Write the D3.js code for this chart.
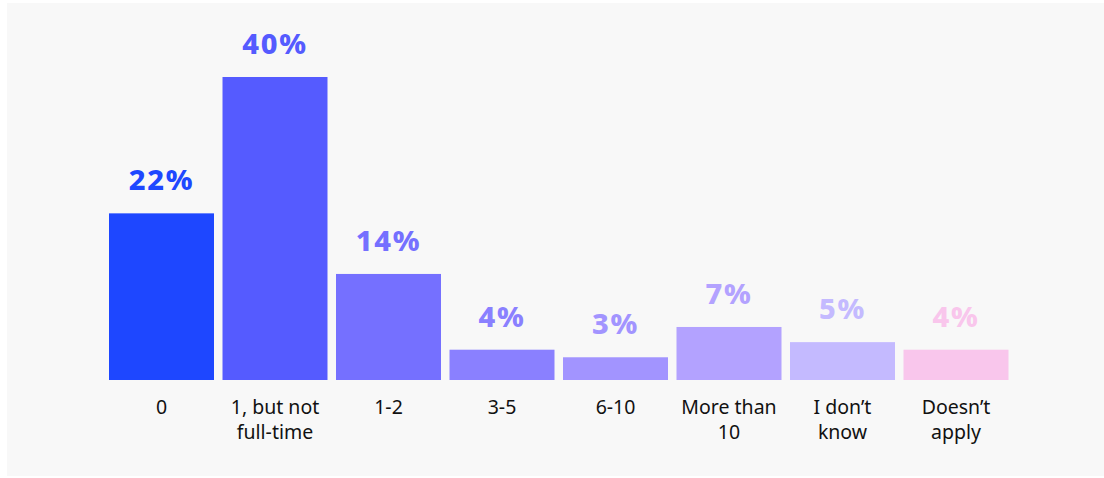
<!DOCTYPE html>
<html>
<head>
<meta charset="utf-8">
<script src="https://cdn.jsdelivr.net/npm/d3@7"></script>
<style>
  html, body { margin: 0; padding: 0; background: #ffffff; }
  svg { display: block; }
</style>
</head>
<body>
<svg id="chart" width="1104" height="478"></svg>
<script>
// Number of full-time staff dedicated to the topic
const categories = ["0", "1, but not\nfull-time", "1-2", "3-5", "6-10", "More than\n10", "I don\u2019t\nknow", "Doesn\u2019t\napply"];
const values = [22, 40, 14, 4, 3, 7, 5, 4];
const barColors = ["#1e47ff", "#555bff", "#7570ff", "#8a80ff", "#a294ff", "#b3a2ff", "#c4baff", "#f9c6ec"];

const svg = d3.select("#chart");
const W = 1104, H = 478;

// light panel behind the chart
svg.append("rect")
  .attr("x", 7).attr("y", 3)
  .attr("width", W - 7).attr("height", 473)
  .attr("fill", "#f8f8f8");

const baseline = 380;

const x = d3.scaleBand()
  .domain(categories)
  .range([104.75, 1012.75])
  .paddingInner(0.075)
  .paddingOuter(0.0375);

const y = d3.scaleLinear()
  .domain([0, 40])
  .range([baseline, 77]);

const g = svg.append("g");

g.selectAll("rect.bar")
  .data(values)
  .join("rect")
  .attr("class", "bar")
  .attr("x", (d, i) => x(categories[i]))
  .attr("y", d => y(d))
  .attr("width", x.bandwidth())
  .attr("height", d => baseline - y(d))
  .attr("fill", (d, i) => barColors[i]);

g.selectAll("text.value")
  .data(values)
  .join("text")
  .attr("class", "value")
  .attr("x", (d, i) => x(categories[i]) + x.bandwidth() / 2)
  .attr("y", d => y(d) - 23)
  .attr("text-anchor", "middle")
  .attr("font-family", "'Noto Sans', sans-serif")
  .attr("font-weight", 800)
  .attr("font-size", 29)
  .attr("letter-spacing", 1.8)
  .attr("fill", (d, i) => barColors[i])
  .text(d => d + "%");

// category labels under the baseline, split over two lines
const xAxis = d3.axisBottom(x).tickSize(0).tickPadding(0);
const axisG = svg.append("g")
  .attr("transform", `translate(0,${baseline})`)
  .call(xAxis);
axisG.select(".domain").remove();
axisG.selectAll(".tick text").each(function(d) {
  const t = d3.select(this);
  t.text(null)
    .attr("y", 34)
    .attr("dy", null)
    .attr("font-family", "'Noto Sans', sans-serif")
    .attr("font-size", 19.5)
    .attr("fill", "#111111");
  d.split("\n").forEach((line, k) => {
    t.append("tspan")
      .attr("x", 0)
      .attr("dy", k === 0 ? 0 : 25)
      .text(line);
  });
});
</script>
</body>
</html>
